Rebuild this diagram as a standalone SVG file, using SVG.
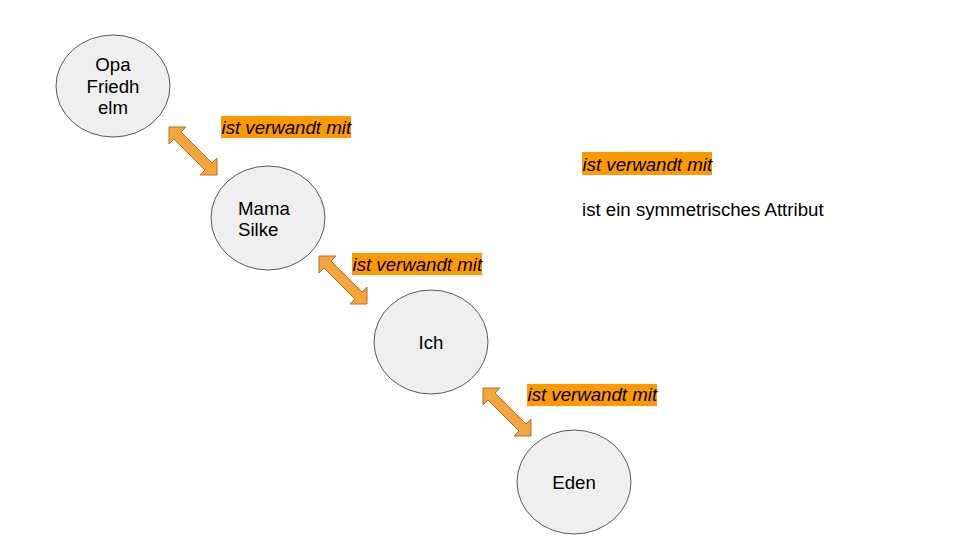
<svg xmlns="http://www.w3.org/2000/svg" xmlns:xlink="http://www.w3.org/1999/xlink" width="960" height="540" viewBox="0 0 960 540">
<style>
.node{fill:#efefef;stroke:#595959;stroke-width:1}
.t{font-family:"Liberation Sans",Arial,sans-serif;font-size:18.67px;fill:#000}
.c{text-anchor:middle}
.lbl{font-style:italic}
.hl{fill:#ff9900}
.arr{fill:#f6a53c;stroke:#b27322;stroke-width:1;stroke-linejoin:miter}
</style>
<defs>
<path id="dblarrow" class="arr" d="M0,0 L17,0 L12,5 L43,36 L48,31 L48,48 L31,48 L36,43 L5,12 L0,17 Z"/>
</defs>
<rect width="960" height="540" fill="#ffffff"/>
<g id="connectors">
<use xlink:href="#dblarrow" href="#dblarrow" transform="translate(169,127)"/>
<use xlink:href="#dblarrow" href="#dblarrow" transform="translate(319,256)"/>
<use xlink:href="#dblarrow" href="#dblarrow" transform="translate(483,388)"/>
</g>
<g id="label1">
<rect class="hl" x="221" y="116" width="130" height="22"/>
<text class="t lbl" x="221.5" y="133.5">ist verwandt mit</text>
</g>
<g id="label2">
<rect class="hl" x="352" y="253" width="130" height="22"/>
<text class="t lbl" x="352.5" y="270.5">ist verwandt mit</text>
</g>
<g id="label3">
<rect class="hl" x="527" y="384" width="130" height="22"/>
<text class="t lbl" x="527.5" y="401">ist verwandt mit</text>
</g>
<g id="node-opa">
<ellipse class="node" cx="113" cy="86" rx="57" ry="51"/>
<text class="t c" x="113" y="71">Opa</text>
<text class="t c" x="113" y="92.5">Friedh</text>
<text class="t c" x="113" y="114">elm</text>
</g>
<g id="node-mama">
<ellipse class="node" cx="268" cy="218" rx="57" ry="52"/>
<text class="t" x="238" y="214.5">Mama</text>
<text class="t" x="238" y="235.5">Silke</text>
</g>
<g id="node-ich">
<ellipse class="node" cx="431" cy="342" rx="57" ry="52"/>
<text class="t c" x="431" y="349">Ich</text>
</g>
<g id="node-eden">
<ellipse class="node" cx="574" cy="482" rx="57" ry="52"/>
<text class="t c" x="574" y="489">Eden</text>
</g>
<g id="legend">
<rect class="hl" x="582" y="152" width="130" height="23"/>
<text class="t lbl" x="582.5" y="170.5">ist verwandt mit</text>
<text class="t" x="582" y="216">ist ein symmetrisches Attribut</text>
</g>
</svg>
